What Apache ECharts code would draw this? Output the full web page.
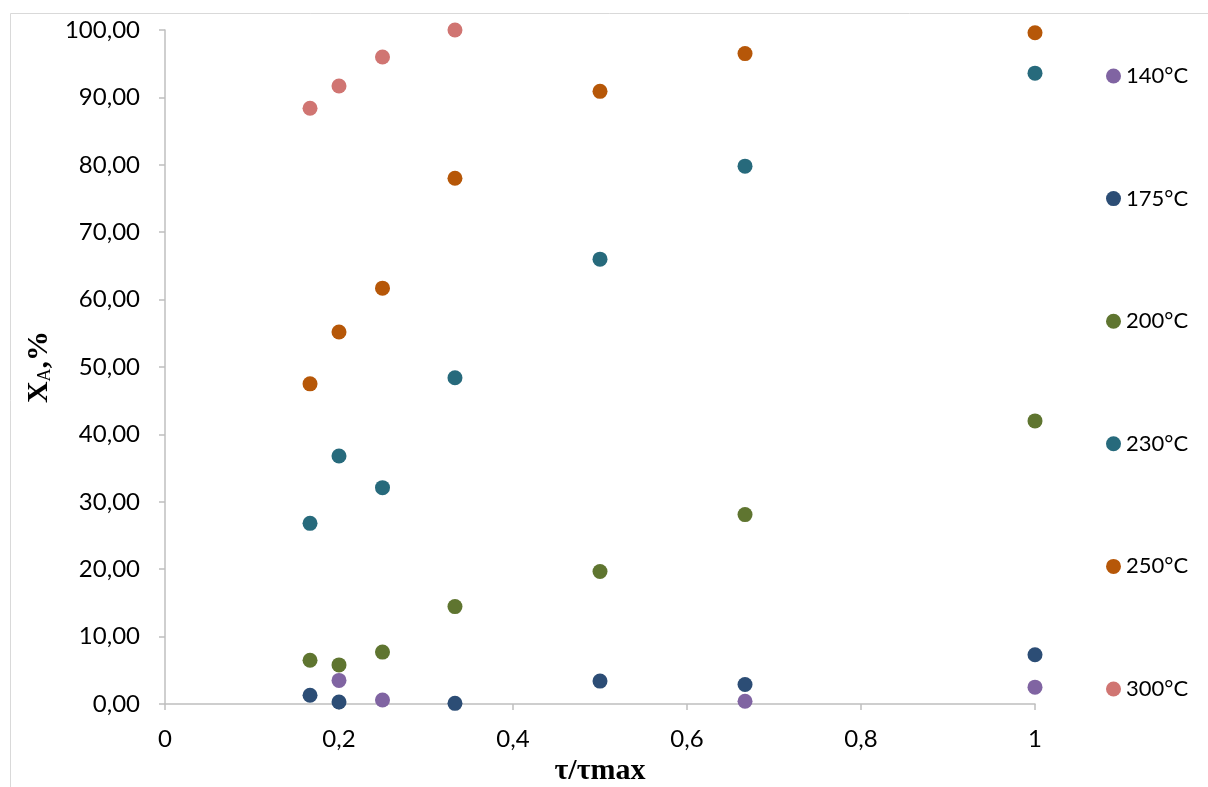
<!DOCTYPE html>
<html>
<head>
<meta charset="utf-8">
<script src="https://cdn.jsdelivr.net/npm/echarts@6/dist/echarts.min.js"></script>
<style>html,body{margin:0;padding:0;background:#fff;overflow:hidden}#c{width:1208px;height:787px}</style>
</head>
<body>
<div id="c"></div>
<script>
const seriesNames = ['140°C', '175°C', '200°C', '230°C', '250°C', '300°C'];
const colors = ['#8064A2', '#2C4D75', '#5F7530', '#276A7C', '#B65708', '#D07572'];
const x140 = [0.2, 0.25, 0.6667, 1];
const y140 = [3.5, 0.6, 0.4, 2.5];
const x175 = [0.1667, 0.2, 0.3333, 0.5, 0.6667, 1];
const y175 = [1.3, 0.3, 0.1, 3.4, 2.9, 7.3];
const x200 = [0.1667, 0.2, 0.25, 0.3333, 0.5, 0.6667, 1];
const y200 = [6.5, 5.8, 7.7, 14.45, 19.65, 28.1, 42.0];
const x230 = [0.1667, 0.2, 0.25, 0.3333, 0.5, 0.6667, 1];
const y230 = [26.8, 36.8, 32.1, 48.4, 66.0, 79.8, 93.6];
const x250 = [0.1667, 0.2, 0.25, 0.3333, 0.5, 0.6667, 1];
const y250 = [47.5, 55.2, 61.7, 78.0, 90.9, 96.5, 99.6];
const x300 = [0.1667, 0.2, 0.25, 0.3333];
const y300 = [88.4, 91.7, 96.0, 100.0];

const xs = [x140, x175, x200, x230, x250, x300];
const ys = [y140, y175, y200, y230, y250, y300];

const chart = echarts.init(document.getElementById('c'));
const fontFam = 'Lato, "Open Sans", sans-serif';
const serif = '"Liberation Serif", "Times New Roman", serif';
chart.setOption({
  animation: false,
  backgroundColor: '#fff',
  graphic: [{
    type: 'rect', shape: { x: 10.5, y: 13.5, width: 1400, height: 1000 },
    style: { fill: 'none', stroke: '#D9D9D9', lineWidth: 1 }, silent: true, z: -10
  }],
  grid: { left: 165, right: 173, top: 30, bottom: 83, containLabel: false, outerBoundsMode: 'none' },
  legend: {
    orient: 'vertical', left: 1101, top: 60,
    itemWidth: 15, itemHeight: 15, itemGap: 100.6,
    icon: 'circle',
    textStyle: { fontFamily: fontFam, fontSize: 22, color: '#000', padding: [0, 0, 0, 0] },
    data: seriesNames
  },
  xAxis: {
    type: 'value', min: 0, max: 1, interval: 0.2,
    name: 'τ/τmax', nameLocation: 'middle', nameGap: 40,
    nameTextStyle: { fontFamily: serif, fontWeight: 'bold', fontSize: 30, color: '#000' },
    axisLine: { show: true, lineStyle: { color: '#BFBFBF', width: 1.5 } },
    axisTick: { show: true, inside: false, length: 6, lineStyle: { color: '#BFBFBF', width: 1.5 } },
    axisLabel: { fontFamily: fontFam, fontSize: 24, color: '#000', margin: 23,
      formatter: v => String(Math.round(v * 10) / 10).replace('.', ',') },
    splitLine: { show: false }
  },
  yAxis: {
    type: 'value', min: 0, max: 100, interval: 10,
    name: '{b|X}{s|A}{b|,%}', nameLocation: 'middle', nameGap: 104, nameRotate: 90,
    nameTextStyle: {
      rich: {
        b: { fontFamily: serif, fontWeight: 'bold', fontSize: 30, color: '#000' },
        s: { fontFamily: serif, fontSize: 18, color: '#000', verticalAlign: 'bottom', padding: [10, 0, 0, 0] }
      }
    },
    axisLine: { show: true, lineStyle: { color: '#BFBFBF', width: 1.5 } },
    axisTick: { show: true, inside: false, length: 6, lineStyle: { color: '#BFBFBF', width: 1.5 } },
    axisLabel: { fontFamily: fontFam, fontSize: 24, color: '#000', margin: 25,
      formatter: v => v.toFixed(2).replace('.', ',') },
    splitLine: { show: false }
  },
  series: seriesNames.map((n, i) => ({
    name: n, type: 'scatter', symbol: 'circle', symbolSize: 15,
    itemStyle: { color: colors[i], opacity: 1 },
    data: xs[i].map((x, j) => [x, ys[i][j]])
  }))
});
</script>
</body>
</html>
